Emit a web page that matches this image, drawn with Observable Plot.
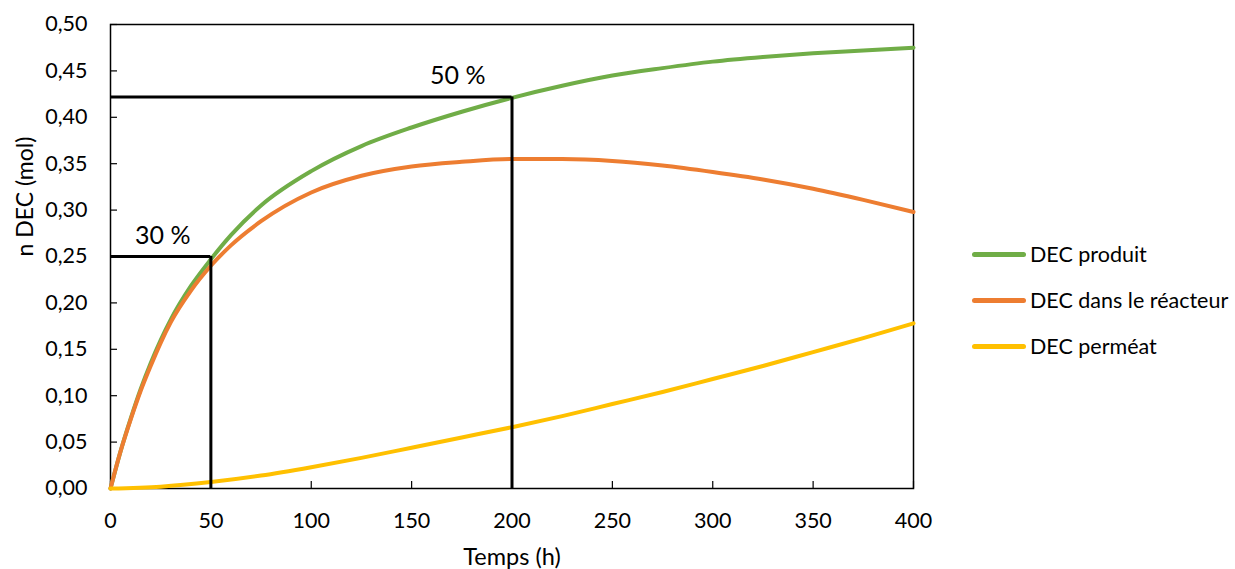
<!DOCTYPE html>
<html>
<head>
<meta charset="utf-8">
<script src="https://cdn.jsdelivr.net/npm/d3@7"></script>
<script src="https://cdn.jsdelivr.net/npm/@observablehq/plot@0.6"></script>
<style>
  html, body { margin: 0; padding: 0; background: #fff; }
  #wrap { position: relative; width: 1235px; height: 569px; font-family: Lato, sans-serif; }
  #legend { position: absolute; left: 972px; top: 231px; font-size: 21.5px; color: #000; }
  .item { display: flex; align-items: center; height: 46px; }
  .sw { width: 54px; height: 5px; border-radius: 3px; margin-right: 4px; }
</style>
</head>
<body>
<div id="wrap"></div>
<script>
// Data
const seriesNames = ["DEC produit", "DEC dans le réacteur", "DEC perméat"];
const colors = ["#70AD47", "#ED7D31", "#FFC000"];

const tProduit = [0, 5, 10, 15, 20, 25, 30, 40, 50, 60, 75, 100, 125, 150, 175, 200, 225, 250, 275, 300, 325, 350, 375, 400];
const vProduit = [0, 0.040, 0.075, 0.107, 0.135, 0.160, 0.182, 0.218, 0.247, 0.273, 0.305, 0.342, 0.369, 0.389, 0.406, 0.421, 0.434, 0.445, 0.453, 0.460, 0.465, 0.469, 0.472, 0.475];

const tReacteur = [0, 5, 10, 15, 20, 25, 30, 40, 50, 60, 75, 100, 125, 150, 175, 200, 225, 250, 275, 300, 325, 350, 375, 400];
const vReacteur = [0, 0.040, 0.074, 0.105, 0.132, 0.157, 0.179, 0.213, 0.240, 0.262, 0.288, 0.319, 0.337, 0.347, 0.352, 0.355, 0.355, 0.353, 0.348, 0.341, 0.333, 0.323, 0.311, 0.298];

const tPermeat = [0, 25, 50, 75, 100, 125, 150, 175, 200, 225, 250, 275, 300, 325, 350, 375, 400];
const vPermeat = [0, 0.002, 0.007, 0.014, 0.023, 0.033, 0.044, 0.055, 0.066, 0.078, 0.091, 0.104, 0.118, 0.132, 0.147, 0.162, 0.178];

// Annotations: conversion markers
const markLabels = ["30 %", "50 %"];
const markT = [50, 200];
const markV = [0.25, 0.422];
const labelT = [26, 173];

const xTicks = [0, 50, 100, 150, 200, 250, 300, 350, 400];
const yTicks = [0, 0.05, 0.10, 0.15, 0.20, 0.25, 0.30, 0.35, 0.40, 0.45, 0.50];
const xLabel = "Temps (h)";
const yLabel = "n DEC (mol)";

const toRows = (ts, vs, s) => ts.map((t, i) => ({t, v: vs[i], s}));
const rows = [
  ...toRows(tProduit, vProduit, seriesNames[0]),
  ...toRows(tReacteur, vReacteur, seriesNames[1]),
  ...toRows(tPermeat, vPermeat, seriesNames[2])
];
const annH = markT.map((t, i) => ({x1: 0, x2: t, y: markV[i]}));
const annV = markT.map((t, i) => ({x: t, y1: 0, y2: markV[i]}));
const annText = markT.map((t, i) => ({x: labelT[i], y: markV[i], label: markLabels[i]}));

const fmt = d => d3.format(".2f")(d).replace(".", ",");

const chart = Plot.plot({
  width: 1235,
  height: 569,
  marginLeft: 110,
  marginRight: 322,
  marginTop: 24,
  marginBottom: 81,
  style: {fontFamily: "Lato, sans-serif", fontSize: "21.5px", color: "#000", background: "#fff"},
  x: {domain: [0, 400]},
  y: {domain: [0, 0.5]},
  color: {domain: seriesNames, range: colors},
  marks: [
    Plot.frame({stroke: "#000", strokeWidth: 1.5}),
    Plot.axisX({ticks: xTicks, tickSize: -7, tickPadding: 31, fontSize: 21.5, label: null, strokeWidth: 1.2}),
    Plot.axisY({ticks: yTicks, tickFormat: fmt, tickSize: -7, tickPadding: 30, fontSize: 21.5, label: null, strokeWidth: 1.2}),
    Plot.text([xLabel], {text: d => d, frameAnchor: "bottom", dy: 69, fontSize: 23.5, lineAnchor: "middle"}),
    Plot.text([yLabel], {text: d => d, frameAnchor: "left", dx: -85, rotate: -90, fontSize: 23, lineAnchor: "middle"}),
    Plot.line(rows, {x: "t", y: "v", z: "s", stroke: "s", strokeWidth: 4, curve: "monotone-x"}),
    Plot.ruleY(annH, {x1: "x1", x2: "x2", y: "y", stroke: "#000", strokeWidth: 3}),
    Plot.ruleX(annV, {x: "x", y1: "y1", y2: "y2", stroke: "#000", strokeWidth: 3}),
    Plot.text(annText, {x: "x", y: "y", text: "label", dy: -21, fontSize: 25, fill: "#000"})
  ]
});
document.getElementById("wrap").appendChild(chart);

const legend = document.createElement("div");
legend.id = "legend";
seriesNames.forEach((n, i) => {
  const it = document.createElement("div");
  it.className = "item";
  const sw = document.createElement("div");
  sw.className = "sw";
  sw.style.background = colors[i];
  const tx = document.createElement("span");
  tx.textContent = n;
  it.appendChild(sw); it.appendChild(tx);
  legend.appendChild(it);
});
document.getElementById("wrap").appendChild(legend);
</script>
</body>
</html>
